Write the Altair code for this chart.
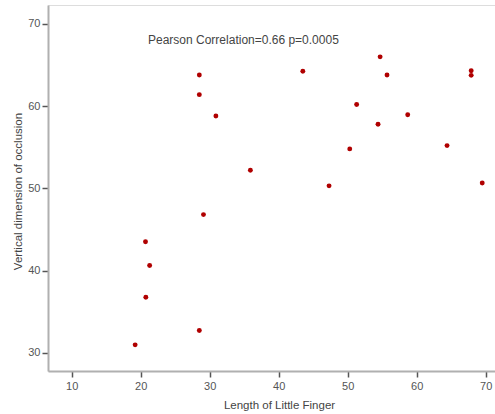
import altair as alt
import pandas as pd

finger_length = [19.2, 20.7, 21.3, 20.75, 28.5, 29.1, 28.5, 28.5, 30.9, 35.9,
                 43.5, 54.7, 55.7, 51.3, 58.7, 54.4, 50.3, 64.4, 47.3, 67.9,
                 67.9, 69.5]
vertical_dim = [30.95, 43.5, 40.6, 36.75, 32.7, 46.8, 63.8, 61.4, 58.8, 52.2,
                64.25, 66.0, 63.8, 60.2, 58.95, 57.8, 54.8, 55.2, 50.3, 64.3,
                63.75, 50.65]
x_ticks = [10, 20, 30, 40, 50, 60, 70]
y_ticks = [30, 40, 50, 60, 70]
annotation = ["Pearson Correlation=0.66 p=0.0005"]

df = pd.DataFrame({"x": finger_length, "y": vertical_dim})

font = "Liberation Sans"

points = alt.Chart(df).mark_circle(size=24, color="#b00000", opacity=1).encode(
    x=alt.X("x:Q",
            scale=alt.Scale(domain=[6.57, 71.35], nice=False, zero=False),
            axis=alt.Axis(values=x_ticks, title="Length of Little Finger",
                          grid=False, domainColor="#b0b0b0", domainWidth=2,
                          tickColor="#555555", tickWidth=1.5, tickSize=6,
                          labelFont=font, labelFontSize=11, labelColor="#555555",
                          labelPadding=3,
                          titleFont=font, titleFontSize=11.5, titleFontWeight="normal",
                          titleColor="#444444", titleX=231, titleY=34,
                          titleBaseline="middle")),
    y=alt.Y("y:Q",
            scale=alt.Scale(domain=[27.77, 72.31], nice=False, zero=False),
            axis=alt.Axis(values=y_ticks, title="Vertical dimension of occlusion",
                          grid=False, domainColor="#b0b0b0", domainWidth=2,
                          tickColor="#555555", tickWidth=1.5, tickSize=6,
                          labelFont=font, labelFontSize=11, labelColor="#555555",
                          labelPadding=2,
                          titleFont=font, titleFontSize=11.5, titleFontWeight="normal",
                          titleColor="#444444", titleX=-30, titleY=186,
                          titleAngle=-90, titleBaseline="middle", titleAlign="center")),
)

text = alt.Chart(pd.DataFrame({"t": annotation})).mark_text(
    align="left", baseline="middle", font=font, fontSize=12, color="#444444"
).encode(x=alt.value(100), y=alt.value(35), text="t:N")

chart = (points + text).properties(
    width=447, height=366,
    autosize=alt.AutoSizeParams(type="none"),
    padding={"left": 48, "top": 5, "right": 0, "bottom": 43},
).configure_view(stroke=None).configure(background="white")

chart.save("out.html", embed_options={"renderer": "svg", "actions": False})
